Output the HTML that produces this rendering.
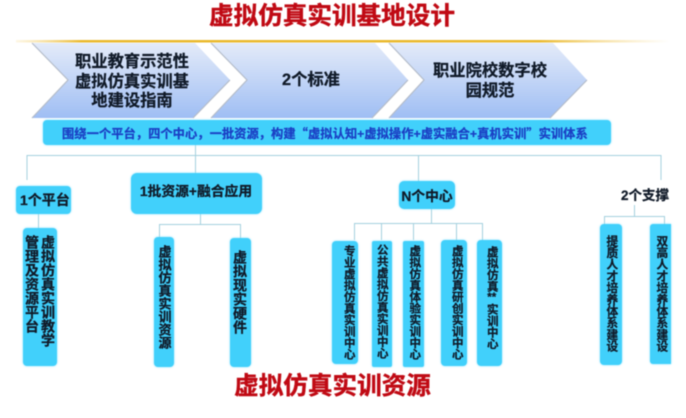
<!DOCTYPE html>
<html lang="zh">
<head>
<meta charset="utf-8">
<style>
html,body{margin:0;padding:0;background:#fff;}
#r{position:relative;width:686px;height:418px;overflow:hidden;background:#fff;font-family:"Liberation Sans","Noto Sans CJK SC",sans-serif;font-weight:700;color:#101a28;filter:blur(.45px);-webkit-text-stroke:.25px currentColor;}
#r svg{position:absolute;left:0;top:0;}
.b{position:absolute;background:#41d0fb;border-radius:4px;box-shadow:0 0 2px #8fe2fd;}
.t{position:absolute;white-space:nowrap;line-height:1;}
.c{text-align:center;transform:translateX(-50%);}
.v{position:absolute;writing-mode:vertical-rl;text-orientation:upright;white-space:nowrap;line-height:1;transform:translateX(-50%);}
.red{color:#c00a14;font-size:24.6px;font-weight:700;-webkit-text-stroke:.4px #c00a14;}
.q{font-family:"Noto Sans CJK SC",sans-serif;}
.combo{text-combine-upright:all;}
</style>
</head>
<body>
<div id="r">
<svg width="686" height="418" viewBox="0 0 686 418">
<defs>
<linearGradient id="g" x1="0" y1="0" x2="0" y2="1"><stop offset="0" stop-color="#e4ebf9"/><stop offset="1" stop-color="#9fbef4"/></linearGradient>
<linearGradient id="y" x1="0" y1="0" x2="1" y2="0"><stop offset="0" stop-color="#f6d680" stop-opacity=".2"/><stop offset=".1" stop-color="#eab92d"/><stop offset=".8" stop-color="#eab92d"/><stop offset="1" stop-color="#f6d680" stop-opacity="0"/></linearGradient>
</defs>
<rect x="16" y="40" width="654" height="2.5" fill="url(#y)"/>
<g fill="url(#g)">
<polygon points="32,43 195,43 230,80 193,118 32,118 68,80"/>
<polygon points="211,43 375,43 408,80 372,118 211,118 247,80"/>
<polygon points="389,43 553,43 587,80 550,118 389,118 424,80"/>
</g>
<g fill="none" stroke="#b4bcc9" stroke-width="1.200">
<path d="M32 43L68 80L32 118M230 80L193 118"/>
<path d="M211 43L247 80L211 118M408 80L372 118"/>
<path d="M389 43L424 80L389 118M587 80L550 118"/>
</g>
<g fill="none" stroke="#a4d0de" stroke-width="1">
<path d="M27 180V155.500H661V180"/>
<path d="M195.500 145V173"/>
<path d="M418.500 155V181"/>
<path d="M38.500 214V228"/>
<path d="M200.500 212V224.500M159.500 237V224.500H240.500V238"/>
<path d="M431.500 209V223.500M354.500 240V223.500H482.500V240M381.500 223V240M413.500 223V240M456.500 223V240"/>
<path d="M634.500 205V216.500M604.500 224V216.500H664.500V224"/>
</g>
</svg>

<div class="t c red" style="left:332px;top:5px;">虚拟仿真实训基地设计</div>

<div class="t c" style="left:132px;top:53px;font-size:16.300px;line-height:19.500px;text-align:center;">职业教育示范性<br>虚拟仿真实训基<br>地建设指南</div>
<div class="t c" style="left:311px;top:72px;font-size:16.300px;">2个标准</div>
<div class="t c" style="left:490px;top:62px;font-size:16.300px;line-height:19.500px;text-align:center;">职业院校数字校<br>园规范</div>

<div class="b" style="left:43px;top:120px;width:568px;height:25px;"></div>
<div class="t" style="left:62px;top:127px;font-size:12.300px;color:#1b3fc4;">围绕一个平台，四个中心，一批资源，构建<span class="q">“</span>虚拟认知+虚拟操作+虚实融合+真机实训<span class="q">”</span>实训体系</div>

<div class="b" style="left:16px;top:186px;width:55px;height:28px;"></div>
<div class="t" style="left:20px;top:193px;font-size:14px;">1个平台</div>
<div class="b" style="left:131px;top:173px;width:131px;height:41px;border-radius:6px;"></div>
<div class="t c" style="left:196px;top:185px;font-size:13.800px;">1批资源+融合应用</div>
<div class="b" style="left:399px;top:181px;width:56px;height:28px;border-radius:5px;"></div>
<div class="t c" style="left:427px;top:190px;font-size:13.800px;">N个中心</div>
<div class="t c" style="left:645px;top:189px;font-size:13.500px;">2个支撑</div>

<div class="b" style="left:23px;top:228px;width:34px;height:138px;"></div>
<div class="v" style="left:48px;top:235px;font-size:14px;">虚拟仿真实训教学</div>
<div class="v" style="left:32px;top:235px;font-size:14px;">管理及资源平台</div>

<div class="b" style="left:154px;top:237px;width:20px;height:130px;"></div>
<div class="v" style="left:164px;top:245px;font-size:13px;">虚拟仿真实训资源</div>
<div class="b" style="left:230px;top:238px;width:21px;height:129px;"></div>
<div class="v" style="left:240px;top:250px;font-size:14px;">虚拟现实硬件</div>

<div class="b" style="left:332px;top:241px;width:26px;height:123px;"></div>
<div class="v" style="left:348px;top:245px;font-size:11.500px;">专业虚拟仿真实训中心</div>
<div class="b" style="left:372px;top:241px;width:20px;height:126px;border-radius:2px;"></div>
<div class="v" style="left:381px;top:244px;font-size:11.500px;">公共虚拟仿真实训中心</div>
<div class="b" style="left:403px;top:241px;width:21px;height:126px;border-radius:2px;"></div>
<div class="v" style="left:413.500px;top:245px;font-size:11.500px;">虚拟仿真体验实训中心</div>
<div class="b" style="left:441px;top:240px;width:26px;height:126px;"></div>
<div class="v" style="left:456px;top:245px;font-size:11.500px;">虚拟仿真研创实训中心</div>
<div class="b" style="left:477px;top:240px;width:25px;height:126px;"></div>
<div class="v" style="left:491px;top:246px;font-size:11.500px;">虚拟仿真<span class="combo">**</span>实训中心</div>

<div class="b" style="left:600px;top:224px;width:22px;height:141px;"></div>
<div class="v" style="left:611px;top:235px;font-size:11.700px;">提质人才培养体系建设</div>
<div class="b" style="left:650px;top:224px;width:21px;height:140px;border-radius:3px 0 0 3px;"></div>
<div class="v" style="left:661px;top:235px;font-size:11.700px;">双高人才培养体系建设</div>

<div class="t c red" style="left:332.500px;top:375px;">虚拟仿真实训资源</div>
</div>
</body>
</html>
